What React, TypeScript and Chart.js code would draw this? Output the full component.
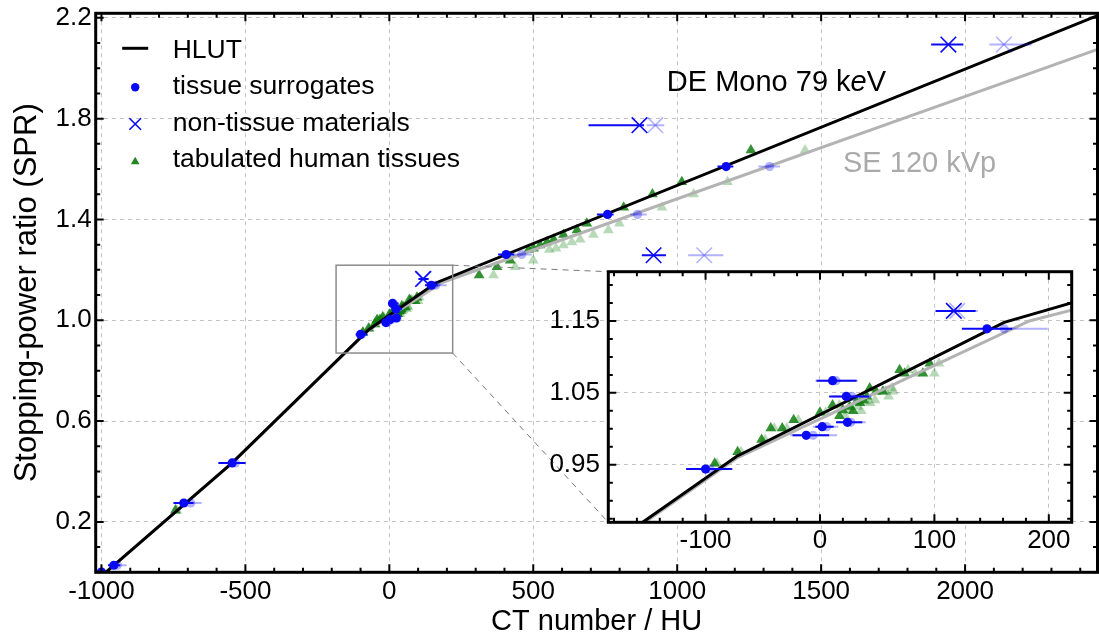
import React, { useEffect, useRef } from "react";
import { Chart, registerables } from "chart.js";

Chart.register(...registerables);

const FONT = "'Liberation Sans', Helvetica, Arial, sans-serif";

// ---------- axes ----------
const mainXRange = [-1020, 2460];
const mainYRange = [0, 2.218];
const mainXTicks = [-1000, -500, 0, 500, 1000, 1500, 2000];
const mainYTicks = [0.2, 0.6, 1.0, 1.4, 1.8, 2.2];
const insetXRange = [-185, 220];
const insetYRange = [0.87, 1.2185];
const insetXTicks = [-100, 0, 100, 200];
const insetYTicks = [0.95, 1.05, 1.15];

// ---------- HLUT curves ----------
const hlutDeHU = [-1000, -546, -73, 161, 2460];
const hlutDeSPR = [-0.015, 0.434, 0.9615, 1.148, 2.209];
const hlutSeHU = [-1000, -546, -72, 183, 2460];
const hlutSeSPR = [-0.015, 0.434, 0.96, 1.15, 2.075];

// ---------- tissue surrogates ----------
const surrogateSPR = [0.001, 0.028, 0.275, 0.434, 0.944, 0.991, 1.003, 1.067, 1.045, 1.009, 1.139, 1.261, 1.42, 1.61];
const surrogateDeHU = [-1000, -957, -714, -546, -100, -12, 2, 11, 23, 24, 146, 406, 758, 1170];
const surrogateDeLo = [-1012, -977, -750, -594, -117, -24, -4, -3, 8, 14, 124, 378, 721, 1140];
const surrogateDeHi = [-988, -935, -680, -500, -77, 8, 12, 32, 43, 37, 168, 434, 779, 1195];
const surrogateSeHU = [-1000, -945, -690, -535, -96, -6, 6, 14, 28, 27, 161, 460, 862, 1321];
const surrogateSeLo = [-1012, -975, -727, -575, -116, -26, -6, -4, 11, 15, 146, 419, 836, 1282];
const surrogateSeHi = [-988, -912, -652, -498, -76, 15, 16, 33, 45, 40, 199, 495, 894, 1357];

// ---------- non-tissue materials ----------
const nonTissueSPR = [1.164, 1.774, 1.258, 2.094];
const nonTissueDeHU = [117, 869, 918, 1942];
const nonTissueDeLo = [101, 692, 877, 1882];
const nonTissueDeHi = [136, 885, 961, 1994];
const nonTissueSeHU = [120, 924, 1094, 2135];
const nonTissueSeLo = [103, 894, 1038, 2084];
const nonTissueSeHi = [138, 955, 1160, 2231];

// ---------- tabulated human tissues ----------
const tissueSPR = [0.246, 0.952, 0.968, 0.985, 1.001, 1.001, 1.0125, 1.0227, 1.033, 1.018, 1.026, 1.031, 1.025, 1.038, 1.036, 1.04, 1.045, 1.0565, 1.052, 1.052, 1.082, 1.077, 1.077, 1.091, 1.179, 1.212, 1.238, 1.28, 1.285, 1.298, 1.31, 1.321, 1.34, 1.358, 1.384, 1.448, 1.5, 1.549, 1.675];
const tissueDeHU = [-743, -92, -72, -51, -43, -33, -23, 0, 11, 17, 20, 26, 29, 32, 35, 38, 41, 43.5, 49, 55, 69.6, 74, 90, 96, 312, 374, 420, 484, 501, 524, 548, 571, 605, 652, 686, 814, 914, 1016, 1256];
const tissueSeHU = [-738, -90, -69, -48, -40, -29, -19, 5, 17, 22, 26, 33, 36, 40, 44, 48, 60, 63, 57, 64, 77, 83, 100, 104, 362, 437, 500, 556, 579, 605, 634, 663, 709, 761, 799, 947, 1057, 1175, 1444];

// ---------- labels ----------
const legendLabels = ["HLUT", "tissue surrogates", "non-tissue materials", "tabulated human tissues"];
const xTitle = "CT number / HU";
const yTitle = "Stopping-power ratio (SPR)";
const deLabelParts = ["DE Mono 79 k", "e", "V"];
const seLabel = "SE 120 kVp";
const deLabelAt = [964, 1.91];
const seLabelAt = [1576, 1.589];

// ---------- styles ----------
const BLUE = "#0a0af5";
const BLUE_LIGHT = "rgba(0,0,255,0.3)";
const GREEN = "rgba(15,125,15,0.85)";
const GREEN_LIGHT = "rgba(20,128,20,0.3)";
const GRAY_LINE = "#b3b3b3";

const INSET_CANVAS = { x: 530, y: 262, w: 560, h: 300 };

const pts = (xs: number[], ys: number[]) => xs.map((x, i) => ({ x, y: ys[i] }));
const errPts = (xs: number[], ys: number[], lo: number[], hi: number[]) =>
  xs.map((x, i) => ({ x, y: ys[i], xMin: lo[i], xMax: hi[i] }));

function buildDatasets(): any[] {
  return [
    { label: "sur DE", data: errPts(surrogateDeHU, surrogateSPR, surrogateDeLo, surrogateDeHi), pointStyle: "circle", pointRadius: 4.6, pointBackgroundColor: BLUE, pointBorderWidth: 0, errColor: BLUE, order: 0, clip: 0 },
    { label: "nt DE", data: errPts(nonTissueDeHU, nonTissueSPR, nonTissueDeLo, nonTissueDeHi), pointStyle: "crossRot", pointRadius: 11, pointBorderColor: BLUE, pointBorderWidth: 1.6, errColor: BLUE, order: 1, clip: 0 },
    { label: "sur SE", data: errPts(surrogateSeHU, surrogateSPR, surrogateSeLo, surrogateSeHi), pointStyle: "circle", pointRadius: 4.6, pointBackgroundColor: BLUE_LIGHT, pointBorderWidth: 0, errColor: BLUE_LIGHT, order: 2, clip: 0 },
    { label: "nt SE", data: errPts(nonTissueSeHU, nonTissueSPR, nonTissueSeLo, nonTissueSeHi), pointStyle: "crossRot", pointRadius: 11, pointBorderColor: BLUE_LIGHT, pointBorderWidth: 1.6, errColor: BLUE_LIGHT, order: 3, clip: 0 },
    { label: "HLUT DE", data: pts(hlutDeHU, hlutDeSPR), showLine: true, borderColor: "#000", borderWidth: 3, pointRadius: 0, fill: false, tension: 0, order: 4, clip: 0 },
    { label: "HLUT SE", data: pts(hlutSeHU, hlutSeSPR), showLine: true, borderColor: GRAY_LINE, borderWidth: 3, pointRadius: 0, fill: false, tension: 0, order: 5, clip: 0 },
    { label: "tis DE", data: pts(tissueDeHU, tissueSPR), pointStyle: "triangle", pointRadius: 6.2, pointBackgroundColor: GREEN, pointBorderWidth: 0, order: 6, clip: 0 },
    { label: "tis SE", data: pts(tissueSeHU, tissueSPR), pointStyle: "triangle", pointRadius: 6.2, pointBackgroundColor: GREEN_LIGHT, pointBorderWidth: 0, order: 7, clip: 0 },
  ];
}

const errorBarPlugin = {
  id: "errorBars",
  afterDatasetDraw(chart: any, args: any) {
    const ds = chart.data.datasets[args.index];
    if (!ds.errColor) return;
    const { ctx, chartArea: a, scales } = chart;
    const x = scales.x, y = scales.y;
    ctx.save();
    ctx.beginPath();
    ctx.rect(a.left, a.top, a.right - a.left, a.bottom - a.top);
    ctx.clip();
    ctx.strokeStyle = ds.errColor;
    ctx.lineWidth = 2;
    ds.data.forEach((p: any) => {
      const py = y.getPixelForValue(p.y);
      ctx.beginPath();
      ctx.moveTo(x.getPixelForValue(p.xMin), py);
      ctx.lineTo(x.getPixelForValue(p.xMax), py);
      ctx.stroke();
    });
    ctx.restore();
  },
};

function makeFramePlugin(xStep: number, yStep: number, xMajor: number[], yMajor: number[]) {
  return {
    id: "frameTicks",
    afterDraw(chart: any) {
      const { ctx, chartArea: a, scales } = chart;
      const x = scales.x, y = scales.y;
      const majorLen = 8, minorLen = 4.5;
      ctx.save();
      ctx.strokeStyle = "#000";
      ctx.lineWidth = 2;
      ctx.beginPath();
      for (let i = Math.ceil(x.min / xStep); i * xStep <= x.max + 1e-9; i++) {
        const v = i * xStep;
        const px = x.getPixelForValue(v);
        const L = xMajor.some((m) => Math.abs(m - v) < xStep * 0.01) ? majorLen : minorLen;
        ctx.moveTo(px, a.bottom); ctx.lineTo(px, a.bottom - L);
        ctx.moveTo(px, a.top); ctx.lineTo(px, a.top + L);
      }
      for (let i = Math.ceil(y.min / yStep - 1e-9); i * yStep <= y.max + 1e-9; i++) {
        const v = i * yStep;
        const py = y.getPixelForValue(v);
        const L = yMajor.some((m) => Math.abs(m - v) < yStep * 0.01) ? majorLen : minorLen;
        ctx.moveTo(a.left, py); ctx.lineTo(a.left + L, py);
        ctx.moveTo(a.right, py); ctx.lineTo(a.right - L, py);
      }
      ctx.stroke();
      ctx.lineWidth = 3;
      ctx.strokeRect(a.left, a.top, a.right - a.left, a.bottom - a.top);
      ctx.restore();
    },
  };
}

function scaleOpts(range: number[], ticks: number[], fmt: (v: number) => string, padding: number, fitSize: number, horizontal: boolean, title?: any) {
  return {
    type: "linear",
    min: range[0],
    max: range[1],
    afterBuildTicks: (s: any) => { s.ticks = ticks.map((v) => ({ value: v })); },
    afterFit: (s: any) => {
      if (horizontal) s.height = fitSize; else s.width = fitSize;
      s.paddingLeft = 0; s.paddingRight = 0; s.paddingTop = 0; s.paddingBottom = 0;
    },
    ticks: { autoSkip: false, maxRotation: 0, color: "#000", padding, font: { family: FONT, size: 26 }, callback: (v: any) => fmt(Number(v)) },
    grid: { color: "#c4c4c4", lineWidth: 1, drawTicks: false },
    border: { display: false, dash: [4, 4] },
    title: title || { display: false },
  };
}

export default function App() {
  const mainRef = useRef<HTMLCanvasElement>(null);
  const insetRef = useRef<HTMLCanvasElement>(null);

  useEffect(() => {
    const insetBg = {
      id: "insetBg",
      beforeDraw(chart: any) {
        const { ctx, chartArea: a } = chart;
        ctx.save();
        ctx.fillStyle = "#fff";
        ctx.fillRect(a.left, a.top, a.right - a.left, a.bottom - a.top);
        ctx.restore();
      },
    };

    const inset = new Chart(insetRef.current as HTMLCanvasElement, {
      type: "scatter",
      data: { datasets: buildDatasets() },
      options: {
        animation: false,
        responsive: false,
        events: [],
        layout: { autoPadding: false, padding: { left: 0, top: 9.7, right: 18.3, bottom: 0 } },
        plugins: { legend: { display: false }, tooltip: { enabled: false } },
        scales: {
          x: scaleOpts(insetXRange, insetXTicks, (v) => String(Math.round(v)), 3, 39.7, true),
          y: scaleOpts(insetYRange, insetYTicks, (v) => v.toFixed(2), 8.3, 78.3, false),
        },
      } as any,
      plugins: [insetBg, errorBarPlugin, makeFramePlugin(20, 0.025, insetXTicks, insetYTicks)],
    });

    const zoomBox = {
      id: "zoomBox",
      afterDatasetsDraw(chart: any) {
        const { ctx, scales } = chart;
        const x = scales.x, y = scales.y;
        const x0 = x.getPixelForValue(insetXRange[0]);
        const x1 = x.getPixelForValue(insetXRange[1]);
        const yTop = y.getPixelForValue(insetYRange[1]);
        const yBot = y.getPixelForValue(insetYRange[0]);
        ctx.save();
        ctx.strokeStyle = "#8c8c8c";
        ctx.lineWidth = 1.5;
        ctx.strokeRect(x0, yTop, x1 - x0, yBot - yTop);
        const ia = inset.chartArea;
        if (ia) {
          ctx.setLineDash([6, 5]);
          ctx.lineWidth = 1;
          ctx.strokeStyle = "#777";
          ctx.beginPath();
          ctx.moveTo(x1, yTop);
          ctx.lineTo(INSET_CANVAS.x + ia.left, INSET_CANVAS.y + ia.top);
          ctx.moveTo(x1, yBot);
          ctx.lineTo(INSET_CANVAS.x + ia.left, INSET_CANVAS.y + ia.bottom);
          ctx.stroke();
        }
        ctx.restore();
      },
    };

    const curveLabels = {
      id: "curveLabels",
      afterDatasetsDraw(chart: any) {
        const { ctx, scales } = chart;
        const x = scales.x, y = scales.y;
        ctx.save();
        ctx.textAlign = "left";
        ctx.textBaseline = "alphabetic";
        let px = x.getPixelForValue(deLabelAt[0]);
        const py = y.getPixelForValue(deLabelAt[1]);
        ctx.fillStyle = "#000";
        deLabelParts.forEach((t, i) => {
          ctx.font = `${i === 1 ? "italic " : ""}29px ${FONT}`;
          ctx.fillText(t, px, py);
          px += ctx.measureText(t).width;
        });
        ctx.font = `29px ${FONT}`;
        ctx.fillStyle = "#aaaaaa";
        ctx.fillText(seLabel, x.getPixelForValue(seLabelAt[0]), y.getPixelForValue(seLabelAt[1]));
        ctx.restore();
      },
    };

    const customLegend = {
      id: "customLegend",
      afterDraw(chart: any) {
        const { ctx, chartArea: a } = chart;
        const mx = a.left + 39.5;
        const tx = a.left + 77;
        const markerY = [35, 74, 110.7, 148.4].map((v) => a.top + v);
        const baseY = [44.2, 80.7, 117.2, 153.7].map((v) => a.top + v);
        ctx.save();
        ctx.strokeStyle = "#000";
        ctx.lineWidth = 3;
        ctx.beginPath();
        ctx.moveTo(mx - 13, markerY[0]);
        ctx.lineTo(mx + 13, markerY[0]);
        ctx.stroke();
        ctx.fillStyle = BLUE;
        ctx.beginPath();
        ctx.arc(mx, markerY[1], 4.2, 0, Math.PI * 2);
        ctx.fill();
        ctx.strokeStyle = BLUE;
        ctx.lineWidth = 1.6;
        const c = 5.8;
        ctx.beginPath();
        ctx.moveTo(mx - c, markerY[2] - c); ctx.lineTo(mx + c, markerY[2] + c);
        ctx.moveTo(mx - c, markerY[2] + c); ctx.lineTo(mx + c, markerY[2] - c);
        ctx.stroke();
        const r = 5;
        ctx.fillStyle = "rgba(15,125,15,0.92)";
        ctx.beginPath();
        ctx.moveTo(mx, markerY[3] - r);
        ctx.lineTo(mx + r * 0.866, markerY[3] + r * 0.5);
        ctx.lineTo(mx - r * 0.866, markerY[3] + r * 0.5);
        ctx.closePath();
        ctx.fill();
        ctx.fillStyle = "#000";
        ctx.font = `26.5px ${FONT}`;
        ctx.textAlign = "left";
        ctx.textBaseline = "alphabetic";
        legendLabels.forEach((t, i) => ctx.fillText(t, tx, baseY[i]));
        ctx.restore();
      },
    };

    const main = new Chart(mainRef.current as HTMLCanvasElement, {
      type: "scatter",
      data: { datasets: buildDatasets() },
      options: {
        animation: false,
        responsive: false,
        events: [],
        layout: { autoPadding: false, padding: { left: 0, top: 13.3, right: 1.5, bottom: 0 } },
        plugins: { legend: { display: false }, tooltip: { enabled: false } },
        scales: {
          x: scaleOpts(mainXRange, mainXTicks, (v) => String(Math.round(v)), 4, 64.7, true, {
            display: true, text: xTitle, color: "#000", font: { family: FONT, size: 29, lineHeight: 1 }, padding: { top: 0, bottom: 1 },
          }),
          y: scaleOpts(mainYRange, mainYTicks, (v) => v.toFixed(1), 4, 95.7, false, {
            display: true, text: yTitle, color: "#000", font: { family: FONT, size: 31, lineHeight: 1 }, padding: { top: 11.8, bottom: 0 },
          }),
        },
      } as any,
      plugins: [errorBarPlugin, zoomBox, curveLabels, makeFramePlugin(100, 0.1, mainXTicks, mainYTicks), customLegend],
    });

    return () => {
      main.destroy();
      inset.destroy();
    };
  }, []);

  return (
    <div style={{ position: "fixed", left: 0, top: 0, width: 1099, height: 637, background: "#fff", overflow: "hidden" }}>
      <canvas ref={mainRef} width={1099} height={637} style={{ position: "absolute", left: 0, top: 0 }} />
      <canvas ref={insetRef} width={INSET_CANVAS.w} height={INSET_CANVAS.h} style={{ position: "absolute", left: INSET_CANVAS.x, top: INSET_CANVAS.y }} />
    </div>
  );
}
